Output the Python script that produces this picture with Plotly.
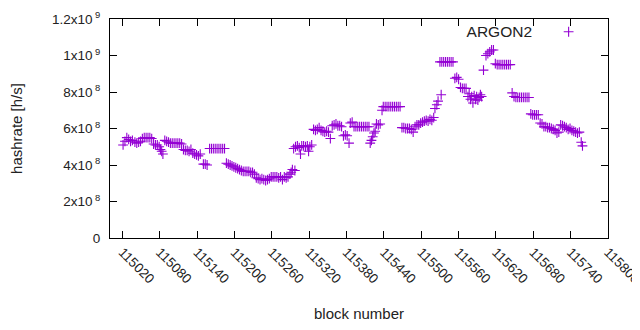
import plotly.graph_objects as go

# block numbers and hashrate (in units of 1e8 h/s)
blocks = [
    115021, 115024, 115027, 115030, 115033, 115036, 115040, 115043, 115046, 115049,
    115052, 115055, 115058, 115061, 115064, 115067, 115070, 115073, 115076, 115079,
    115081, 115083, 115085, 115088, 115091, 115094, 115097, 115100, 115103, 115106,
    115109, 115112, 115115, 115118, 115121, 115124, 115127, 115130, 115133, 115136,
    115139, 115142, 115145, 115150, 115153, 115156, 115160, 115163, 115166, 115169,
    115172, 115175, 115178, 115181, 115184, 115187, 115190, 115193, 115196, 115199,
    115202, 115205, 115208, 115211, 115214, 115217, 115220, 115223, 115226, 115229,
    115232, 115235, 115238, 115241, 115244, 115247, 115250, 115253, 115256, 115259,
    115262, 115265, 115268, 115271, 115274, 115277, 115280, 115283, 115286, 115289,
    115291, 115293, 115295, 115297, 115298, 115301, 115304, 115306, 115308, 115311,
    115314, 115317, 115319, 115321, 115324, 115327, 115330, 115333, 115336, 115339,
    115342, 115345, 115348, 115351, 115354, 115357, 115360, 115363, 115366, 115369,
    115372, 115375, 115378, 115381, 115384, 115386, 115389, 115392, 115395, 115398,
    115401, 115404, 115407, 115410, 115413, 115416, 115418, 115420, 115422, 115424,
    115426, 115428, 115431, 115434, 115437, 115439, 115442, 115445, 115448, 115451,
    115454, 115457, 115460, 115463, 115466, 115469, 115472, 115475, 115478, 115481,
    115484, 115487, 115490, 115493, 115496, 115499, 115502, 115505, 115508, 115511,
    115514, 115517, 115520, 115522, 115525, 115527, 115530, 115532, 115533, 115536,
    115539, 115542, 115545, 115548, 115551, 115554, 115557, 115560, 115563, 115566,
    115569, 115572, 115575, 115577, 115579, 115581, 115583, 115585, 115587, 115589,
    115591, 115593, 115595, 115597, 115600, 115604, 115607, 115610, 115613, 115616,
    115619, 115622, 115625, 115628, 115631, 115634, 115637, 115640, 115643, 115646,
    115649, 115652, 115655, 115658, 115661, 115664, 115667, 115670, 115673, 115676,
    115679, 115682, 115685, 115688, 115691, 115694, 115697, 115700, 115703, 115706,
    115709, 115712, 115715, 115718, 115721, 115724, 115727, 115730, 115733, 115736,
    115739, 115742, 115745, 115748, 115751, 115754, 115757, 115759,
]

hashrate_e8 = [
    5.10, 5.30, 5.50, 5.40, 5.30, 5.35, 5.25, 5.20, 5.25, 5.30,
    5.45, 5.50, 5.50, 5.50, 5.50, 5.45, 5.15, 5.10, 5.10, 5.00,
    4.85, 4.75, 4.60, 5.35, 5.30, 5.25, 5.20, 5.20, 5.20, 5.20,
    5.20, 5.20, 5.15, 4.85, 4.80, 4.80, 4.75, 4.85, 4.65, 4.60,
    4.55, 4.50, 4.60, 4.05, 4.05, 4.00, 4.90, 4.90, 4.90, 4.90,
    4.90, 4.90, 4.90, 4.90, 4.90, 4.10, 4.05, 4.00, 3.95, 3.90,
    3.85, 3.80, 3.75, 3.70, 3.65, 3.65, 3.65, 3.65, 3.60, 3.60,
    3.50, 3.30, 3.25, 3.20, 3.25, 3.20, 3.15, 3.20, 3.25, 3.35,
    3.35, 3.35, 3.35, 3.30, 3.35, 3.20, 3.35, 3.30, 3.35, 3.50,
    3.60, 3.75, 4.90, 3.70, 5.00, 5.05, 4.95, 4.60, 5.05, 5.05,
    5.00, 5.05, 4.75, 5.00, 5.10, 5.95, 5.90, 5.95, 6.05, 5.90,
    5.85, 5.80, 5.85, 5.80, 5.45, 6.15, 6.20, 6.25, 6.15, 6.15,
    6.10, 5.60, 5.65, 5.60, 5.20, 6.30, 6.35, 6.10, 6.10, 6.10,
    6.10, 6.10, 6.10, 6.10, 6.10, 6.10, 5.20, 5.35, 5.55, 5.75,
    5.85, 6.25, 6.20, 6.25, 7.00, 7.20, 7.20, 7.20, 7.20, 7.20,
    7.20, 7.20, 7.20, 7.20, 7.20, 6.05, 6.05, 6.00, 6.00, 6.00,
    5.95, 5.80, 6.10, 6.20, 6.20, 6.30, 6.35, 6.40, 6.45, 6.40,
    6.50, 6.45, 6.60, 7.10, 7.30, 7.50, 9.65, 7.85, 9.65, 9.65,
    9.65, 9.65, 9.65, 9.65, 9.65, 8.75, 8.80, 8.70, 8.25, 8.20,
    8.20, 8.20, 7.75, 7.90, 7.60, 7.75, 7.40, 7.80, 7.60, 7.75,
    7.55, 7.70, 7.85, 7.75, 9.20, 10.00, 10.10, 10.20, 10.30, 10.30,
    9.55, 9.50, 9.50, 9.50, 9.50, 9.50, 9.50, 9.50, 9.50, 7.95,
    7.75, 7.70, 7.70, 7.70, 7.70, 7.70, 7.70, 7.70, 7.70, 6.80,
    6.75, 6.75, 6.75, 6.75, 6.30, 6.25, 6.10, 6.10, 6.05, 6.05,
    6.00, 5.95, 5.90, 5.75, 5.80, 6.20, 6.15, 6.10, 6.05, 5.95,
    6.00, 5.90, 5.85, 5.80, 5.75, 5.80, 5.25, 5.05,
]

x_ticks = [115020, 115080, 115140, 115200, 115260, 115320, 115380,
           115440, 115500, 115560, 115620, 115680, 115740, 115800]
y_tick_vals = [0, 2e8, 4e8, 6e8, 8e8, 1e9, 1.2e9]
y_tick_text = ["0", "2x10<sup> 8</sup>", "4x10<sup> 8</sup>", "6x10<sup> 8</sup>",
               "8x10<sup> 8</sup>", "1x10<sup> 9</sup>", "1.2x10<sup> 9</sup>"]

PURPLE = "#9400D3"
FONT = "Liberation Sans, Arial, sans-serif"

fig = go.Figure()
fig.add_trace(go.Scatter(
    x=blocks,
    y=[v * 1e8 for v in hashrate_e8],
    mode="markers",
    name=" ",
    marker=dict(symbol="cross-thin", size=7, color=PURPLE,
                line=dict(color=PURPLE, width=1.1)),
    showlegend=True,
))

axis_common = dict(
    showline=True, linecolor="black", linewidth=1, mirror="ticks",
    ticks="inside", ticklen=7, tickcolor="black", tickwidth=1,
    showgrid=False, zeroline=False, automargin=False,
    ticklabeloverflow="allow",
    tickfont=dict(family=FONT, size=13.5, color="#222"),
)

# page body has an 8px default margin, so the figure is 8px smaller
fig.update_layout(
    width=632, height=322,
    margin=dict(l=102, r=32, t=10, b=92),
    paper_bgcolor="white", plot_bgcolor="white",
    font=dict(family=FONT, size=13, color="#222"),
    xaxis=dict(range=[115000, 115800], tickvals=x_ticks,
               ticktext=[str(t) for t in x_ticks], tickangle=45,
               title=dict(text="block number", standoff=23,
                          font=dict(family=FONT, size=15)),
               **axis_common),
    yaxis=dict(range=[0, 1.2e9], tickvals=y_tick_vals, ticktext=y_tick_text,
               title=dict(text="hashrate [h/s]", standoff=25,
                          font=dict(family=FONT, size=15)),
               ticklabelstandoff=6,
               **axis_common),
    legend=dict(
        orientation="h",
        x=0.979, y=0.935, xanchor="right", yanchor="middle",
        bgcolor="rgba(0,0,0,0)",
        title=dict(text="ARGON2\u00a0\u00a0", side="left",
                   font=dict(family=FONT, size=15.5, color="#222")),
        font=dict(family=FONT, size=13),
        itemwidth=30,
    ),
)

fig.write_html("out.html")
